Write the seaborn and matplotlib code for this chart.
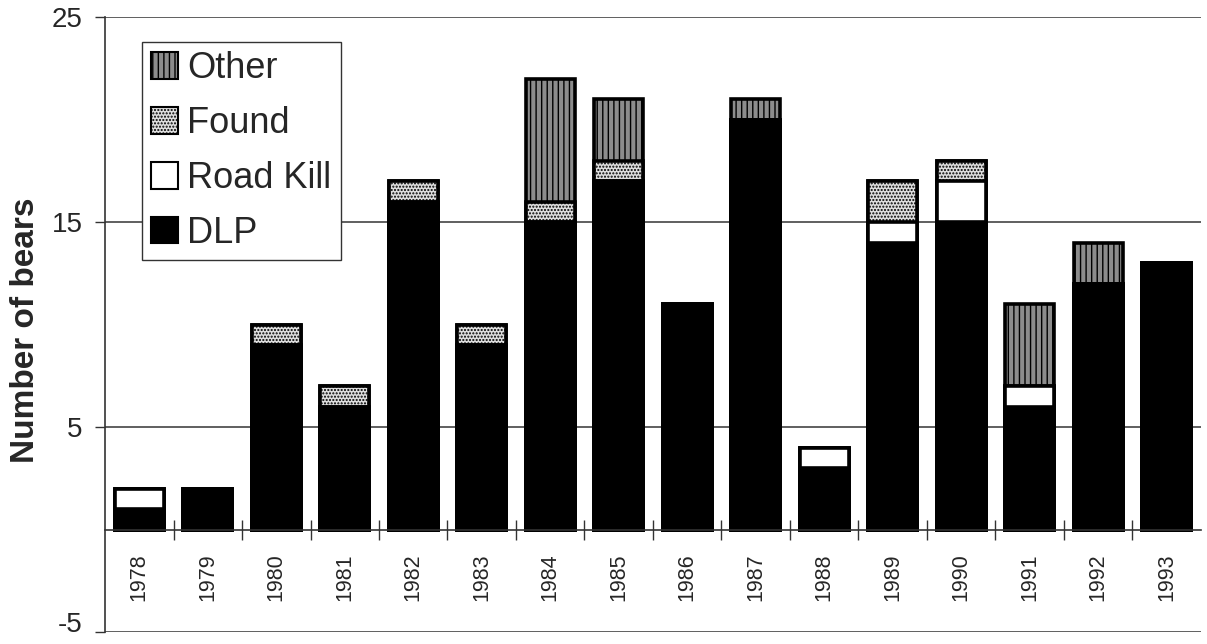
import matplotlib
matplotlib.use("Agg")
import matplotlib.pyplot as plt
from matplotlib.patches import Patch
from matplotlib.ticker import FixedLocator
import numpy as np
import pandas as pd
import seaborn as sns

# Bear mortality by cause, 1978-1993
years = [str(y) for y in range(1978, 1994)]
dlp = [1, 2, 9, 6, 16, 9, 15, 17, 11, 20, 3, 14, 15, 6, 12, 13]
road_kill = [1, 0, 0, 0, 0, 0, 0, 0, 0, 0, 1, 1, 2, 1, 0, 0]
found = [0, 0, 1, 1, 1, 1, 1, 1, 0, 0, 0, 2, 1, 0, 0, 0]
other = [0, 0, 0, 0, 0, 0, 6, 3, 0, 1, 0, 0, 0, 4, 2, 0]
y_ticks = [-5, 5, 15, 25]

sns.set_style("white")
plt.rcParams["font.family"] = ["Liberation Sans", "DejaVu Sans"]
plt.rcParams["hatch.linewidth"] = 1.0
plt.rcParams["axes.unicode_minus"] = False

df = pd.DataFrame({"year": years, "DLP": dlp, "Road Kill": road_kill,
                   "Found": found, "Other": other})
# cumulative heights; each layer is drawn from zero and covered by the next
df["top_other"] = df["DLP"] + df["Road Kill"] + df["Found"] + df["Other"]
df["top_found"] = df["DLP"] + df["Road Kill"] + df["Found"]
df["top_road"] = df["DLP"] + df["Road Kill"]
df["top_dlp"] = df["DLP"]

styles = {
    "Other": dict(col="top_other", face="#8c8c8c", hatch="|||"),
    "Found": dict(col="top_found", face="#dedede", hatch="....."),
    "Road Kill": dict(col="top_road", face="white", hatch=None),
    "DLP": dict(col="top_dlp", face="black", hatch=None),
}

fig = plt.figure(figsize=(12.07, 6.44), dpi=100)
ax = fig.add_axes([0.087, 0.0186, 0.908, 0.955])

for name in ["Other", "Found", "Road Kill", "DLP"]:
    st = styles[name]
    sns.barplot(data=df, x="year", y=st["col"], color=st["face"],
                saturation=1, width=0.72, edgecolor="black", linewidth=2.6,
                ax=ax, errorbar=None)
    if st["hatch"]:
        for p in ax.containers[-1]:
            p.set_hatch(st["hatch"])

ax.set_ylim(-5, 25)
ax.set_xlim(-0.5, len(years) - 0.5)
ax.set_yticks(y_ticks)
ax.tick_params(axis="y", which="major", labelsize=20, length=7,
               direction="out", width=1, color="#333333", pad=9, left=True)
ax.yaxis.grid(True, color="#444444", linewidth=1.2)
ax.set_axisbelow(True)
# keep the lowest value label clear of the figure edge
ax.get_yticklabels()[0].set_verticalalignment("baseline")
ax.get_yticklabels()[0].set_y(-5)

# category axis sits at zero, with ticks between the years
ax.spines["bottom"].set_position(("data", 0))
ax.spines["bottom"].set_color("#333333")
ax.spines["bottom"].set_linewidth(1.2)
ax.spines["left"].set_color("#333333")
ax.spines["left"].set_linewidth(1.2)
ax.spines["top"].set_visible(False)
ax.spines["right"].set_visible(False)
ax.xaxis.set_minor_locator(FixedLocator(np.arange(0.5, len(years) - 0.5, 1)))
ax.tick_params(axis="x", which="minor", length=15, direction="inout",
               width=1, color="#333333", bottom=True)
ax.tick_params(axis="x", which="major", length=0, labelsize=15.5, pad=17,
               labelrotation=90)
ax.set_xlabel("")
ax.set_ylabel("Number of bears", fontsize=24, fontweight="bold")
ax.yaxis.set_label_coords(-0.058, 0.49)

handles = [Patch(facecolor=styles[n]["face"], edgecolor="black",
                 hatch=styles[n]["hatch"], linewidth=1.5, label=n)
           for n in ["Other", "Found", "Road Kill", "DLP"]]
leg = ax.legend(handles=handles, loc="upper left",
                bbox_to_anchor=(0.034, 0.959), borderaxespad=0,
                fontsize=26, frameon=True, fancybox=False, shadow=False,
                handlelength=0.75, handleheight=0.75, handletextpad=0.25,
                labelspacing=0.55, borderpad=0.25, framealpha=1)
leg.get_frame().set_edgecolor("#333333")
leg.get_frame().set_linewidth(1.0)

fig.savefig("out.png", dpi=100)
